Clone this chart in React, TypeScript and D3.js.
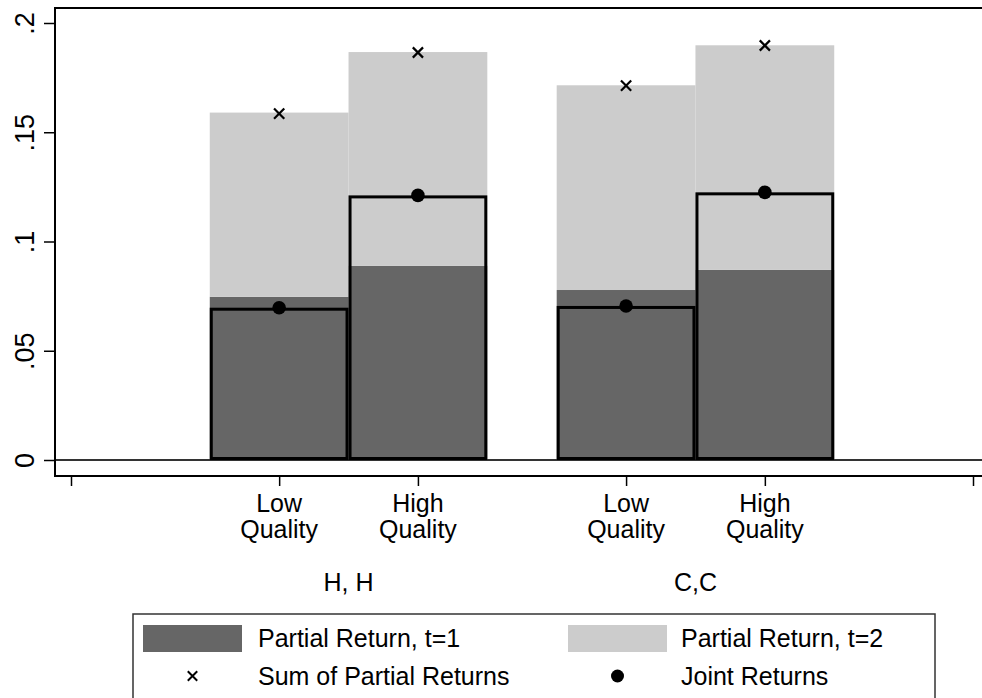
import React, { useRef, useEffect } from 'react';
import * as d3 from 'd3';

// values (HH low, HH high, CC low, CC high)
const groups = ["H, H", "C,C"];
const qualities = ["Low", "High"];
const partialT1 = [0.0747, 0.0889, 0.0778, 0.087];
const partialT2 = [0.0843, 0.0978, 0.0937, 0.1028];
const sumPartial = [0.1585, 0.1865, 0.1713, 0.1897];
const jointReturns = [0.0697, 0.1211, 0.0705, 0.1225];
const yTicks = [0, 0.05, 0.1, 0.15, 0.2];
const yTickLabels = ["0", ".05", ".1", ".15", ".2"];
const legendLabels = ["Partial Return, t=1", "Partial Return, t=2", "Sum of Partial Returns", "Joint Returns"];

const W = 982;
const H = 698;
const DARK = "#666666";
const LIGHT = "#cccccc";
const FONT = "'Liberation Sans', Arial, Helvetica, sans-serif";

const App: React.FC = () => {
  const svgRef = useRef<SVGSVGElement>(null);

  useEffect(() => {
    if (!svgRef.current) return;
    const svg = d3.select(svgRef.current);
    svg.selectAll("*").remove();

    const plot = { left: 55, top: 8, bottom: 476 };
    const x = d3.scaleLinear().domain([0, 13]).range([71, 973]);
    const y = d3.scaleLinear().domain([0, 0.2]).range([460, 23]);

    const bars = groups.flatMap((g, gi) =>
      qualities.map((q, qi) => {
        const i = gi * 2 + qi;
        return {
          q,
          pos: 3 + gi * 5 + qi * 2,
          t1: partialT1[i],
          t2: partialT2[i],
          sum: sumPartial[i],
          joint: jointReturns[i],
        };
      })
    );

    // zero line
    svg.append("line")
      .attr("x1", plot.left).attr("x2", W + 10)
      .attr("y1", y(0)).attr("y2", y(0))
      .attr("stroke", "#333").attr("stroke-width", 1.8);

    // stacked partial returns
    const bar = svg.append("g");
    bar.selectAll("rect.t1")
      .data(bars)
      .join("rect")
        .attr("class", "t1")
        .attr("x", d => x(d.pos - 1))
        .attr("width", d => x(d.pos + 1) - x(d.pos - 1))
        .attr("y", d => y(d.t1))
        .attr("height", d => y(0) - y(d.t1))
        .attr("fill", DARK);
    bar.selectAll("rect.t2")
      .data(bars)
      .join("rect")
        .attr("class", "t2")
        .attr("x", d => x(d.pos - 1))
        .attr("width", d => x(d.pos + 1) - x(d.pos - 1))
        .attr("y", d => y(d.t1 + d.t2))
        .attr("height", d => y(d.t1) - y(d.t1 + d.t2))
        .attr("fill", LIGHT);

    // joint return outline bars
    const sw = 3;
    bar.selectAll("rect.joint")
      .data(bars)
      .join("rect")
        .attr("class", "joint")
        .attr("x", d => x(d.pos - 1) + sw / 2)
        .attr("width", d => x(d.pos + 1) - x(d.pos - 1) - sw)
        .attr("y", d => y(d.joint) + sw / 2)
        .attr("height", d => y(0) - y(d.joint) - sw)
        .attr("fill", "none")
        .attr("stroke", "#000")
        .attr("stroke-width", sw);

    const xSym = d3.symbol().type(d3.symbolX).size(70);
    svg.append("g").selectAll("path")
      .data(bars)
      .join("path")
        .attr("d", xSym)
        .attr("transform", d => `translate(${x(d.pos)},${y(d.sum)})`)
        .attr("stroke", "#000").attr("stroke-width", 2.2).attr("fill", "none");

    svg.append("g").selectAll("circle")
      .data(bars)
      .join("circle")
        .attr("cx", d => x(d.pos))
        .attr("cy", d => y(d.joint))
        .attr("r", 6.8)
        .attr("fill", "#000");

    // frame
    svg.append("path")
      .attr("d", `M${W + 10},${plot.top}H${plot.left}V${plot.bottom}H${W + 10}`)
      .attr("fill", "none").attr("stroke", "#000").attr("stroke-width", 2);

    // y axis
    const yAxis = svg.append("g")
      .attr("transform", `translate(${plot.left},0)`)
      .call(d3.axisLeft(y).tickValues(yTicks).tickFormat((_, i) => yTickLabels[i]).tickSize(11).tickSizeOuter(0));
    yAxis.select(".domain").remove();
    yAxis.selectAll("line").attr("stroke", "#000").attr("stroke-width", 1.5);
    yAxis.selectAll("text")
      .attr("x", null).attr("dy", null)
      .attr("text-anchor", "middle")
      .attr("transform", "translate(-21,0) rotate(-90)")
      .attr("fill", "#000")
      .style("font-family", FONT)
      .style("font-size", "27px");

    // x axis
    const xAxis = svg.append("g")
      .attr("transform", `translate(0,${plot.bottom})`)
      .call(d3.axisBottom(x).tickValues([0, ...bars.map(d => d.pos), 13]).tickFormat(() => "").tickSize(10).tickSizeOuter(0));
    xAxis.select(".domain").remove();
    xAxis.selectAll("line").attr("stroke", "#000").attr("stroke-width", 1.5);

    const lbl = svg.append("g").style("font-family", FONT).style("font-size", "25px").attr("fill", "#000").attr("text-anchor", "middle");
    bars.forEach(d => {
      const t = lbl.append("text").attr("x", x(d.pos));
      t.append("tspan").attr("x", x(d.pos)).attr("y", 512).text(d.q);
      t.append("tspan").attr("x", x(d.pos)).attr("y", 538).text("Quality");
    });
    groups.forEach((g, gi) => {
      lbl.append("text").attr("x", x(4 + gi * 5)).attr("y", 591).text(g);
    });

    // legend
    const leg = svg.append("g").style("font-family", FONT).style("font-size", "25px");
    leg.append("rect")
      .attr("x", 133).attr("y", 614).attr("width", 935 - 133).attr("height", 100)
      .attr("fill", "#fff").attr("stroke", "#333").attr("stroke-width", 1.5);
    const cols = [143, 568];
    const rows = [638, 676];
    leg.append("rect").attr("x", cols[0]).attr("y", 625).attr("width", 99).attr("height", 27).attr("fill", DARK);
    leg.append("rect").attr("x", cols[1]).attr("y", 625).attr("width", 99).attr("height", 27).attr("fill", LIGHT);
    leg.append("path").attr("d", d3.symbol().type(d3.symbolX).size(60)())
      .attr("transform", `translate(${cols[0] + 49.5},${rows[1]})`)
      .attr("stroke", "#000").attr("stroke-width", 2).attr("fill", "none");
    leg.append("circle").attr("cx", cols[1] + 49.5).attr("cy", rows[1]).attr("r", 6.5).attr("fill", "#000");
    legendLabels.forEach((t, i) => {
      leg.append("text")
        .attr("x", cols[i % 2] + (i % 2 ? 113 : 115))
        .attr("y", rows[Math.floor(i / 2)] + 9)
        .attr("fill", "#000")
        .text(t);
    });
  }, []);

  return (
    <svg ref={svgRef} width={W} height={H}
      style={{ position: 'absolute', left: 0, top: 0, background: '#fff' }} />
  );
};

export default App;
